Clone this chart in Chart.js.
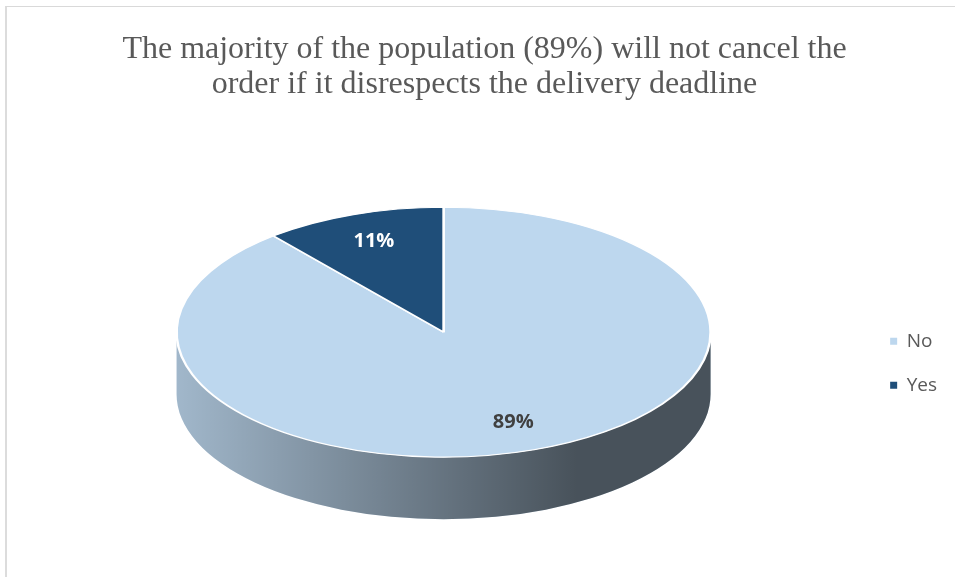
<!DOCTYPE html>
<html>
<head>
<meta charset="utf-8">
<title>Order cancellation</title>
<script src="https://cdn.jsdelivr.net/npm/chart.js@4"></script>
<style>
  html, body { margin: 0; padding: 0; background: #fff; }
  .wrap { position: relative; width: 955px; height: 577px; overflow: hidden; }
  .frame { position: absolute; left: 5px; top: 6px; right: -10px; bottom: -10px;
           border-top: 1px solid #d9d9d9; border-left: 2px solid #dcdcdc; }
  canvas { position: absolute; left: 0; top: 0; }
</style>
</head>
<body>
<div class="wrap">
  <div class="frame"></div>
  <canvas id="pie" width="955" height="577"></canvas>
</div>
<script>
const labels = ['No', 'Yes'];
const answers = [89, 11];
const sliceColors = ['#bdd7ee', '#1f4e79'];
const valueColors = ['#404040', '#ffffff'];
const titleLines = [
    'The majority of the population (89%) will not cancel the',
    'order if it disrespects the delivery deadline'
];

// fake 3D: the top face is squashed and a wall is extruded below it
const tilt = 0.468, depth = 62, labelRadius = 0.77;

function faceTop(arc) { return arc.y - depth / 2; }

const pie3d = {
    id: 'pie3d',
    beforeDatasetsDraw(chart) {
        const arcs = chart.getDatasetMeta(0).data;
        if (!arcs.length) return;
        const ctx = chart.ctx;
        const {x, y, outerRadius: r} = arcs[0];
        const top = faceTop(arcs[0]);

        const shade = ctx.createLinearGradient(x - r, 0, x + r, 0);
        shade.addColorStop(0, 'rgba(0,0,0,0.15)');
        shade.addColorStop(0.75, 'rgba(0,0,0,0.62)');
        shade.addColorStop(1, 'rgba(0,0,0,0.62)');

        // only the front half of the wall (0..PI) can be seen
        arcs.forEach((arc, i) => {
            [0, 2 * Math.PI].forEach(base => {
                const a0 = Math.max(arc.startAngle, base), a1 = Math.min(arc.endAngle, base + Math.PI);
                if (a1 <= a0) return;
                ctx.beginPath();
                ctx.ellipse(x, top, r, r * tilt, 0, a0, a1);
                ctx.lineTo(x + r * Math.cos(a1), top + depth + r * tilt * Math.sin(a1));
                ctx.ellipse(x, top + depth, r, r * tilt, 0, a1, a0, true);
                ctx.closePath();
                ctx.fillStyle = sliceColors[i];
                ctx.fill();
                ctx.fillStyle = shade;
                ctx.fill();
            });
        });

        ctx.save();
        ctx.translate(0, top);
        ctx.scale(1, tilt);
        ctx.translate(0, -y);
    },
    afterDatasetsDraw(chart) {
        const arcs = chart.getDatasetMeta(0).data;
        if (!arcs.length) return;
        const ctx = chart.ctx;
        ctx.restore();

        const total = answers.reduce((a, b) => a + b, 0);
        ctx.save();
        ctx.font = 'bold 20px "Open Sans"';
        ctx.textAlign = 'center';
        ctx.textBaseline = 'middle';
        arcs.forEach((arc, i) => {
            const mid = (arc.startAngle + arc.endAngle) / 2;
            const lx = arc.x + Math.cos(mid) * arc.outerRadius * labelRadius;
            const ly = faceTop(arc) + Math.sin(mid) * arc.outerRadius * tilt * labelRadius;
            ctx.fillStyle = valueColors[i];
            ctx.fillText(Math.round(answers[i] / total * 100) + '%', lx, ly);
        });
        ctx.restore();
    }
};

new Chart(document.getElementById('pie'), {
    type: 'pie',
    data: {
        labels,
        datasets: [{
            data: answers,
            backgroundColor: sliceColors,
            borderColor: '#ffffff',
            borderWidth: 2.5,
            radius: 267,
            clip: false
        }]
    },
    options: {
        responsive: false,
        animation: false,
        events: [],
        layout: { padding: { left: 22, right: 8 } },
        plugins: {
            title: {
                display: true,
                text: titleLines,
                color: '#595959',
                font: { family: '"Liberation Serif", serif', size: 32, weight: 'normal', lineHeight: 1.1 },
                padding: { top: 32, bottom: 47 }
            },
            legend: {
                position: 'right',
                fullSize: false,
                labels: {
                    boxWidth: 7,
                    boxHeight: 7,
                    padding: 25,
                    color: '#595959',
                    font: { family: '"Open Sans"', size: 19 },
                    generateLabels: chart =>
                        Chart.overrides.doughnut.plugins.legend.labels.generateLabels(chart)
                            .map(l => ({...l, lineWidth: 0}))
                }
            },
            tooltip: { enabled: false }
        }
    },
    plugins: [pie3d]
});
</script>
</body>
</html>
